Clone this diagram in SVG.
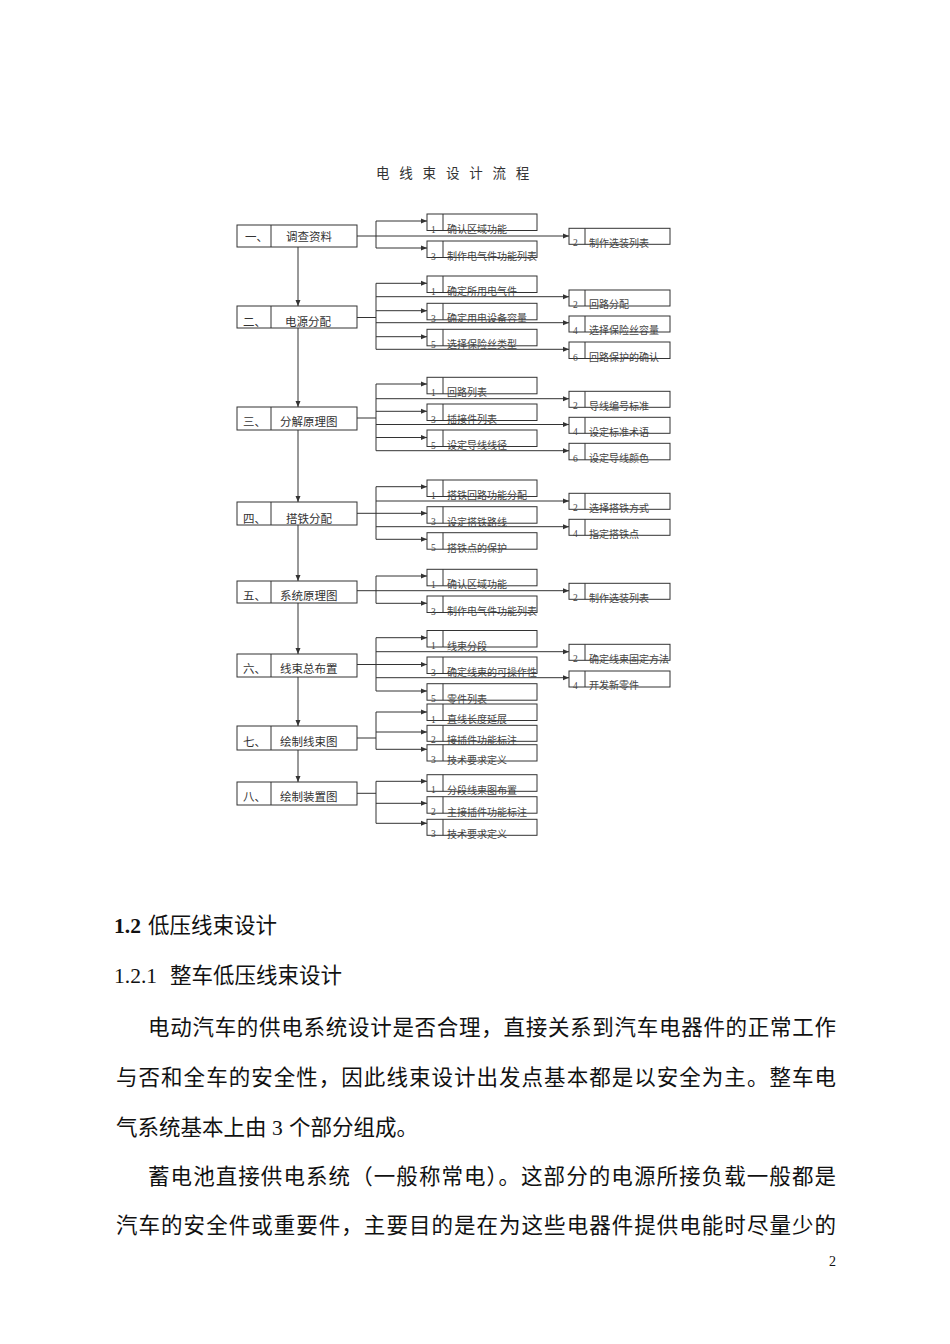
<svg xmlns="http://www.w3.org/2000/svg" width="950" height="1344" viewBox="0 0 950 1344">
<defs>
<marker id="ah" markerUnits="userSpaceOnUse" markerWidth="7" markerHeight="6" refX="6" refY="3" orient="auto"><path d="M0,0.5 L6,3 L0,5.5 z" fill="#333"/></marker>
<style>
.bx{fill:#fff;stroke:#333;stroke-width:1}
.dv{stroke:#333;stroke-width:1}
.cn{fill:none;stroke:#333;stroke-width:1}
.ar{fill:none;stroke:#333;stroke-width:1;marker-end:url(#ah)}
.mt{font-family:"Noto Sans CJK SC",sans-serif;font-size:11.5px;fill:#333}
.st{font-family:"Noto Sans CJK SC",sans-serif;font-size:10px;fill:#444}
.sn{font-family:"Liberation Serif",serif;font-size:9.5px;fill:#444}
.tt{font-family:"Noto Sans CJK SC",sans-serif;font-size:13.5px;fill:#333}
.bd{font-family:"Noto Sans CJK SC",serif;font-size:21.5px;fill:#111}
.lt{font-family:"Liberation Serif",serif;font-size:21.5px;fill:#111}
</style>
</defs>
<rect width="950" height="1344" fill="#fff"/>
<text class="tt" x="376" y="178" letter-spacing="9.8">电线束设计流程</text>

<g id="connectors">
<!-- vertical main flow -->
<line class="ar" x1="298" y1="247" x2="298" y2="306"/>
<line class="ar" x1="298" y1="328" x2="298" y2="407"/>
<line class="ar" x1="298" y1="430" x2="298" y2="502"/>
<line class="ar" x1="298" y1="525" x2="298" y2="581"/>
<line class="ar" x1="298" y1="603" x2="298" y2="654"/>
<line class="ar" x1="298" y1="677" x2="298" y2="726"/>
<line class="ar" x1="298" y1="750" x2="298" y2="782"/>
<!-- row 1 -->
<line class="cn" x1="357" y1="236" x2="376" y2="236"/>
<line class="cn" x1="376" y1="221" x2="376" y2="248"/>
<line class="ar" x1="376" y1="221" x2="427" y2="221"/>
<line class="ar" x1="376" y1="248" x2="427" y2="248"/>
<line class="ar" x1="376" y1="236" x2="569" y2="236"/>
<!-- row 2 -->
<line class="cn" x1="357" y1="317.5" x2="376" y2="317.5"/>
<line class="cn" x1="376" y1="283.3" x2="376" y2="349.3"/>
<line class="ar" x1="376" y1="283.3" x2="427" y2="283.3"/>
<line class="ar" x1="376" y1="310.7" x2="427" y2="310.7"/>
<line class="ar" x1="376" y1="336.7" x2="427" y2="336.7"/>
<line class="ar" x1="376" y1="296.7" x2="569" y2="296.7"/>
<line class="ar" x1="376" y1="322.7" x2="569" y2="322.7"/>
<line class="ar" x1="376" y1="349.3" x2="569" y2="349.3"/>
<!-- row 3 -->
<line class="cn" x1="357" y1="418" x2="376" y2="418"/>
<line class="cn" x1="376" y1="384" x2="376" y2="450.7"/>
<line class="ar" x1="376" y1="384" x2="427" y2="384"/>
<line class="ar" x1="376" y1="411.3" x2="427" y2="411.3"/>
<line class="ar" x1="376" y1="437.5" x2="427" y2="437.5"/>
<line class="ar" x1="376" y1="398.7" x2="569" y2="398.7"/>
<line class="ar" x1="376" y1="424.5" x2="569" y2="424.5"/>
<line class="ar" x1="376" y1="450.7" x2="569" y2="450.7"/>
<!-- row 4 -->
<line class="cn" x1="357" y1="513.3" x2="376" y2="513.3"/>
<line class="cn" x1="376" y1="486.7" x2="376" y2="539.3"/>
<line class="ar" x1="376" y1="486.7" x2="427" y2="486.7"/>
<line class="ar" x1="376" y1="513.3" x2="427" y2="513.3"/>
<line class="ar" x1="376" y1="539.3" x2="427" y2="539.3"/>
<line class="ar" x1="376" y1="501" x2="569" y2="501"/>
<line class="ar" x1="376" y1="526.7" x2="569" y2="526.7"/>
<!-- row 5 -->
<line class="cn" x1="357" y1="590.7" x2="376" y2="590.7"/>
<line class="cn" x1="376" y1="576" x2="376" y2="603.3"/>
<line class="ar" x1="376" y1="576" x2="427" y2="576"/>
<line class="ar" x1="376" y1="603.3" x2="427" y2="603.3"/>
<line class="ar" x1="376" y1="590.7" x2="569" y2="590.7"/>
<!-- row 6 -->
<line class="cn" x1="357" y1="664.5" x2="376" y2="664.5"/>
<line class="cn" x1="376" y1="637.7" x2="376" y2="691"/>
<line class="ar" x1="376" y1="637.7" x2="427" y2="637.7"/>
<line class="ar" x1="376" y1="664.5" x2="427" y2="664.5"/>
<line class="ar" x1="376" y1="691" x2="427" y2="691"/>
<line class="ar" x1="376" y1="651.7" x2="569" y2="651.7"/>
<line class="ar" x1="376" y1="677.7" x2="569" y2="677.7"/>
<!-- row 7 -->
<line class="cn" x1="357" y1="738" x2="376" y2="738"/>
<line class="cn" x1="376" y1="712" x2="376" y2="749.3"/>
<line class="ar" x1="376" y1="712" x2="427" y2="712"/>
<line class="ar" x1="376" y1="732" x2="427" y2="732"/>
<line class="ar" x1="376" y1="749.3" x2="427" y2="749.3"/>
<!-- row 8 -->
<line class="cn" x1="357" y1="793.3" x2="376" y2="793.3"/>
<line class="cn" x1="376" y1="781.3" x2="376" y2="823.3"/>
<line class="ar" x1="376" y1="781.3" x2="427" y2="781.3"/>
<line class="ar" x1="376" y1="803.3" x2="427" y2="803.3"/>
<line class="ar" x1="376" y1="823.3" x2="427" y2="823.3"/>
</g>

<!-- main nodes -->
<g id="m1"><rect class="bx" x="237" y="225" width="120" height="22"/><line class="dv" x1="271" y1="225" x2="271" y2="247"/><text class="mt" x="245" y="241">一、</text><text class="mt" x="286" y="241">调查资料</text></g>
<g id="m2"><rect class="bx" x="237" y="306" width="120" height="22"/><line class="dv" x1="271" y1="306" x2="271" y2="328"/><text class="mt" x="243" y="326">二、</text><text class="mt" x="285" y="326">电源分配</text></g>
<g id="m3"><rect class="bx" x="237" y="407" width="120" height="23"/><line class="dv" x1="271" y1="407" x2="271" y2="430"/><text class="mt" x="243" y="426">三、</text><text class="mt" x="280" y="426">分解原理图</text></g>
<g id="m4"><rect class="bx" x="237" y="502" width="120" height="23"/><line class="dv" x1="271" y1="502" x2="271" y2="525"/><text class="mt" x="243" y="523">四、</text><text class="mt" x="286" y="523">搭铁分配</text></g>
<g id="m5"><rect class="bx" x="237" y="581" width="120" height="22"/><line class="dv" x1="271" y1="581" x2="271" y2="603"/><text class="mt" x="243" y="599.5">五、</text><text class="mt" x="280" y="599.5">系统原理图</text></g>
<g id="m6"><rect class="bx" x="237" y="654" width="120" height="23"/><line class="dv" x1="271" y1="654" x2="271" y2="677"/><text class="mt" x="243" y="673">六、</text><text class="mt" x="280" y="673">线束总布置</text></g>
<g id="m7"><rect class="bx" x="237" y="726" width="120" height="24"/><line class="dv" x1="271" y1="726" x2="271" y2="750"/><text class="mt" x="243" y="746">七、</text><text class="mt" x="280" y="746">绘制线束图</text></g>
<g id="m8"><rect class="bx" x="237" y="782" width="120" height="23"/><line class="dv" x1="271" y1="782" x2="271" y2="805"/><text class="mt" x="243" y="801">八、</text><text class="mt" x="280" y="801">绘制装置图</text></g>

<!-- row 1 sub nodes -->
<g id="r1a"><rect class="bx" x="427" y="214" width="110" height="16.5"/><line class="dv" x1="443" y1="214" x2="443" y2="230.5"/><text class="sn" x="431" y="232.5">1</text><text class="st" x="447" y="233">确认区域功能</text></g>
<g id="r1c"><rect class="bx" x="427" y="241" width="110" height="16.5"/><line class="dv" x1="443" y1="241" x2="443" y2="257.5"/><text class="sn" x="431" y="259.5">3</text><text class="st" x="447" y="260">制作电气件功能列表</text></g>
<g id="r1b"><rect class="bx" x="569" y="228.3" width="101" height="16"/><line class="dv" x1="585" y1="228.3" x2="585" y2="244.3"/><text class="sn" x="573" y="246.3">2</text><text class="st" x="589" y="246.5">制作选装列表</text></g>

<!-- row 2 -->
<g id="r2a"><rect class="bx" x="427" y="276" width="110" height="16.5"/><line class="dv" x1="443" y1="276" x2="443" y2="292.5"/><text class="sn" x="431" y="294.5">1</text><text class="st" x="447" y="295">确定所用电气件</text></g>
<g id="r2c"><rect class="bx" x="427" y="303.3" width="110" height="16.5"/><line class="dv" x1="443" y1="303.3" x2="443" y2="319.8"/><text class="sn" x="431" y="321.8">3</text><text class="st" x="447" y="322.3">确定用电设备容量</text></g>
<g id="r2e"><rect class="bx" x="427" y="329.3" width="110" height="16.5"/><line class="dv" x1="443" y1="329.3" x2="443" y2="345.8"/><text class="sn" x="431" y="347.8">5</text><text class="st" x="447" y="348.3">选择保险丝类型</text></g>
<g id="r2b"><rect class="bx" x="569" y="290" width="101" height="16"/><line class="dv" x1="585" y1="290" x2="585" y2="306"/><text class="sn" x="573" y="308">2</text><text class="st" x="589" y="308.2">回路分配</text></g>
<g id="r2d"><rect class="bx" x="569" y="316" width="101" height="16"/><line class="dv" x1="585" y1="316" x2="585" y2="332"/><text class="sn" x="573" y="334">4</text><text class="st" x="589" y="334.2">选择保险丝容量</text></g>
<g id="r2f"><rect class="bx" x="569" y="342" width="101" height="16.5"/><line class="dv" x1="585" y1="342" x2="585" y2="358.5"/><text class="sn" x="573" y="360.5">6</text><text class="st" x="589" y="360.7">回路保护的确认</text></g>

<!-- row 3 -->
<g id="r3a"><rect class="bx" x="427" y="377.3" width="110" height="16.5"/><line class="dv" x1="443" y1="377.3" x2="443" y2="393.8"/><text class="sn" x="431" y="395.8">1</text><text class="st" x="447" y="396.3">回路列表</text></g>
<g id="r3c"><rect class="bx" x="427" y="404" width="110" height="16.5"/><line class="dv" x1="443" y1="404" x2="443" y2="420.5"/><text class="sn" x="431" y="422.5">3</text><text class="st" x="447" y="423">插接件列表</text></g>
<g id="r3e"><rect class="bx" x="427" y="430" width="110" height="16.5"/><line class="dv" x1="443" y1="430" x2="443" y2="446.5"/><text class="sn" x="431" y="448.5">5</text><text class="st" x="447" y="449">设定导线线径</text></g>
<g id="r3b"><rect class="bx" x="569" y="391.3" width="101" height="16"/><line class="dv" x1="585" y1="391.3" x2="585" y2="407.3"/><text class="sn" x="573" y="409.3">2</text><text class="st" x="589" y="409.5">导线编号标准</text></g>
<g id="r3d"><rect class="bx" x="569" y="417.3" width="101" height="16"/><line class="dv" x1="585" y1="417.3" x2="585" y2="433.3"/><text class="sn" x="573" y="435.3">4</text><text class="st" x="589" y="435.5">设定标准术语</text></g>
<g id="r3f"><rect class="bx" x="569" y="443.3" width="101" height="16.5"/><line class="dv" x1="585" y1="443.3" x2="585" y2="459.8"/><text class="sn" x="573" y="461.8">6</text><text class="st" x="589" y="462">设定导线颜色</text></g>

<!-- row 4 -->
<g id="r4a"><rect class="bx" x="427" y="480" width="110" height="16.5"/><line class="dv" x1="443" y1="480" x2="443" y2="496.5"/><text class="sn" x="431" y="498.5">1</text><text class="st" x="447" y="499">搭铁回路功能分配</text></g>
<g id="r4c"><rect class="bx" x="427" y="506.7" width="110" height="16.5"/><line class="dv" x1="443" y1="506.7" x2="443" y2="523.2"/><text class="sn" x="431" y="525.2">3</text><text class="st" x="447" y="525.7">设定搭铁路线</text></g>
<g id="r4e"><rect class="bx" x="427" y="532.7" width="110" height="16.5"/><line class="dv" x1="443" y1="532.7" x2="443" y2="549.2"/><text class="sn" x="431" y="551.2">5</text><text class="st" x="447" y="551.7">搭铁点的保护</text></g>
<g id="r4b"><rect class="bx" x="569" y="493.3" width="101" height="16"/><line class="dv" x1="585" y1="493.3" x2="585" y2="509.3"/><text class="sn" x="573" y="511.3">2</text><text class="st" x="589" y="511.5">选择搭铁方式</text></g>
<g id="r4d"><rect class="bx" x="569" y="519.3" width="101" height="16"/><line class="dv" x1="585" y1="519.3" x2="585" y2="535.3"/><text class="sn" x="573" y="537.3">4</text><text class="st" x="589" y="537.5">指定搭铁点</text></g>

<!-- row 5 -->
<g id="r5a"><rect class="bx" x="427" y="569.3" width="110" height="16.5"/><line class="dv" x1="443" y1="569.3" x2="443" y2="585.8"/><text class="sn" x="431" y="587.8">1</text><text class="st" x="447" y="588.3">确认区域功能</text></g>
<g id="r5c"><rect class="bx" x="427" y="596" width="110" height="16.5"/><line class="dv" x1="443" y1="596" x2="443" y2="612.5"/><text class="sn" x="431" y="614.5">3</text><text class="st" x="447" y="615">制作电气件功能列表</text></g>
<g id="r5b"><rect class="bx" x="569" y="583.3" width="101" height="16"/><line class="dv" x1="585" y1="583.3" x2="585" y2="599.3"/><text class="sn" x="573" y="601.3">2</text><text class="st" x="589" y="601.5">制作选装列表</text></g>

<!-- row 6 -->
<g id="r6a"><rect class="bx" x="427" y="630.5" width="110" height="16.5"/><line class="dv" x1="443" y1="630.5" x2="443" y2="647"/><text class="sn" x="431" y="649">1</text><text class="st" x="447" y="649.5">线束分段</text></g>
<g id="r6c"><rect class="bx" x="427" y="657" width="110" height="16.5"/><line class="dv" x1="443" y1="657" x2="443" y2="673.5"/><text class="sn" x="431" y="675.5">3</text><text class="st" x="447" y="676">确定线束的可操作性</text></g>
<g id="r6e"><rect class="bx" x="427" y="683.7" width="110" height="16.5"/><line class="dv" x1="443" y1="683.7" x2="443" y2="700.2"/><text class="sn" x="431" y="702.2">5</text><text class="st" x="447" y="702.7">零件列表</text></g>
<g id="r6b"><rect class="bx" x="569" y="644.3" width="101" height="16"/><line class="dv" x1="585" y1="644.3" x2="585" y2="660.3"/><text class="sn" x="573" y="662.3">2</text><text class="st" x="589" y="662.5">确定线束固定方法</text></g>
<g id="r6d"><rect class="bx" x="569" y="671" width="101" height="16"/><line class="dv" x1="585" y1="671" x2="585" y2="687"/><text class="sn" x="573" y="689">4</text><text class="st" x="589" y="689.2">开发新零件</text></g>

<!-- row 7 -->
<g id="r7a"><rect class="bx" x="427" y="704" width="110" height="16.5"/><line class="dv" x1="443" y1="704" x2="443" y2="720.5"/><text class="sn" x="431" y="722.5">1</text><text class="st" x="447" y="723">直线长度延展</text></g>
<g id="r7b"><rect class="bx" x="427" y="725.3" width="110" height="16"/><line class="dv" x1="443" y1="725.3" x2="443" y2="741.3"/><text class="sn" x="431" y="743.3">2</text><text class="st" x="447" y="743.8">接插件功能标注</text></g>
<g id="r7c"><rect class="bx" x="427" y="744.7" width="110" height="16.3"/><line class="dv" x1="443" y1="744.7" x2="443" y2="761"/><text class="sn" x="431" y="763">3</text><text class="st" x="447" y="763.5">技术要求定义</text></g>

<!-- row 8 -->
<g id="r8a"><rect class="bx" x="427" y="774.7" width="110" height="16.6"/><line class="dv" x1="443" y1="774.7" x2="443" y2="791.3"/><text class="sn" x="431" y="793.3">1</text><text class="st" x="447" y="793.8">分段线束图布置</text></g>
<g id="r8b"><rect class="bx" x="427" y="796.7" width="110" height="16.5"/><line class="dv" x1="443" y1="796.7" x2="443" y2="813.2"/><text class="sn" x="431" y="815.2">2</text><text class="st" x="447" y="815.7">主接插件功能标注</text></g>
<g id="r8c"><rect class="bx" x="427" y="819.3" width="110" height="16"/><line class="dv" x1="443" y1="819.3" x2="443" y2="835.3"/><text class="sn" x="431" y="837.3">3</text><text class="st" x="447" y="837.8">技术要求定义</text></g>

<!-- body text -->
<text x="114" y="933"><tspan class="lt" font-weight="bold">1.2</tspan><tspan class="bd" x="148">低压线束设计</tspan></text>
<text x="114" y="983"><tspan class="lt">1.2.1</tspan><tspan class="bd" x="170">整车低压线束设计</tspan></text>
<text class="bd" x="148" y="1035" textLength="688" lengthAdjust="spacing">电动汽车的供电系统设计是否合理，直接关系到汽车电器件的正常工作</text>
<text class="bd" x="116" y="1085" textLength="720" lengthAdjust="spacing">与否和全车的安全性，因此线束设计出发点基本都是以安全为主。整车电</text>
<text x="116" y="1135"><tspan class="bd">气系统基本上由</tspan><tspan class="lt" x="272">3</tspan><tspan class="bd" x="289">个部分组成。</tspan></text>
<text class="bd" x="148" y="1184" textLength="688" lengthAdjust="spacing">蓄电池直接供电系统（一般称常电）。这部分的电源所接负载一般都是</text>
<text class="bd" x="116" y="1233" textLength="720" lengthAdjust="spacing">汽车的安全件或重要件，主要目的是在为这些电器件提供电能时尽量少的</text>
<text x="829" y="1266" font-family="Liberation Serif, serif" font-size="14" fill="#111">2</text>
</svg>
